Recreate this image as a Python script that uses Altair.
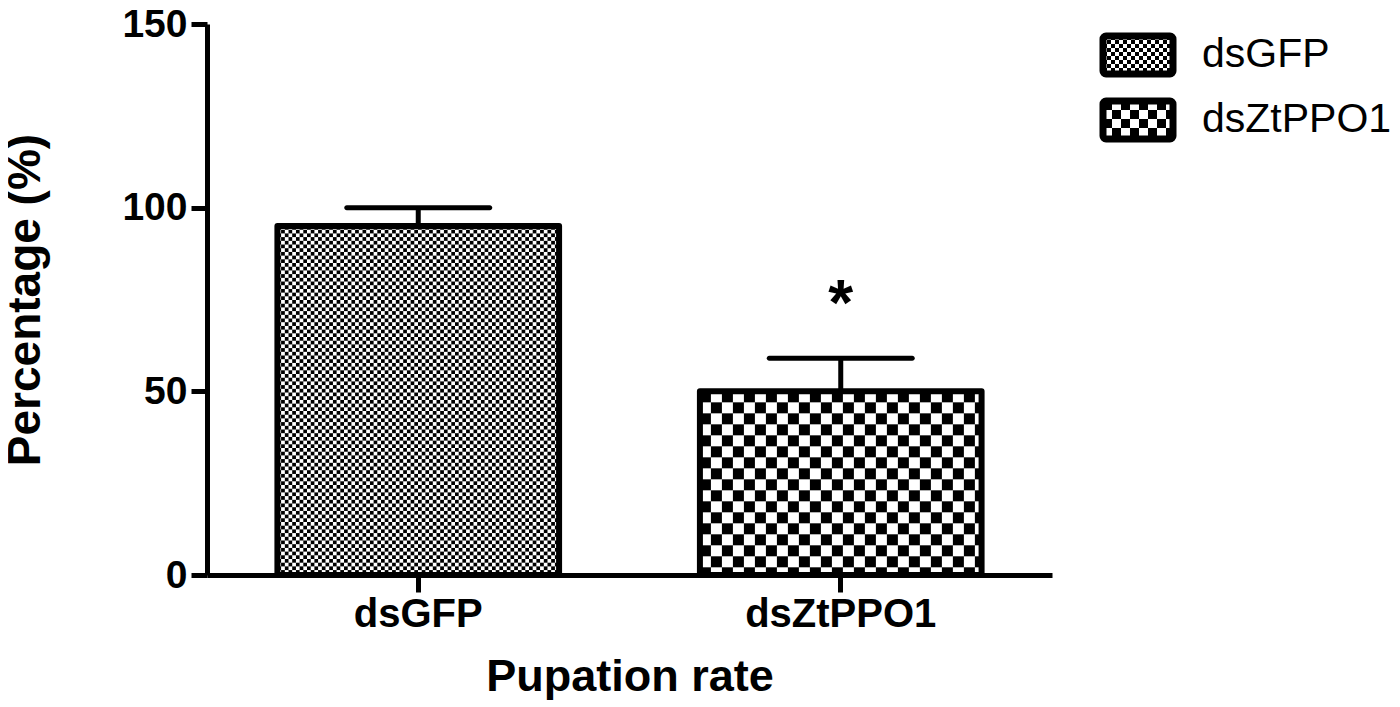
import base64
import altair as alt
import pandas as pd

# ---- data ----
categories = ["dsGFP", "dsZtPPO1"]
means = [95, 50]
errors = [5, 9]
sig_groups = ["dsZtPPO1"]
sig_labels = ["*"]
sig_y = [68]
legend_labels = ["dsGFP", "dsZtPPO1"]
y_ticks = [0, 50, 100, 150]

# ---- styling ----
W, H = 845, 551
FONT = "Liberation Sans"
cell_sizes = {"dsGFP": 3.7, "dsZtPPO1": 11}
legend_cells = {"dsGFP": 4, "dsZtPPO1": 9}


def checker_url(w, h, cell):
    svg = (
        f'<svg xmlns="http://www.w3.org/2000/svg" width="{w:.1f}" height="{h:.1f}" '
        f'viewBox="0 0 {w:.1f} {h:.1f}" preserveAspectRatio="none" shape-rendering="crispEdges">'
        f'<defs><pattern id="p" width="{2*cell}" height="{2*cell}" patternUnits="userSpaceOnUse">'
        f'<rect width="{2*cell}" height="{2*cell}" fill="#fff"/>'
        f'<rect width="{cell}" height="{cell}" fill="#000"/>'
        f'<rect x="{cell}" y="{cell}" width="{cell}" height="{cell}" fill="#000"/>'
        '</pattern></defs><rect width="100%" height="100%" fill="url(#p)"/></svg>'
    )
    return "data:image/svg+xml;base64," + base64.b64encode(svg.encode()).decode()


bw = W / 3.0
df = pd.DataFrame({
    "group": categories,
    "mean": means,
    "err_hi": [m + e for m, e in zip(means, errors)],
    "url": [checker_url(bw, m / 150 * H, cell_sizes[c]) for c, m in zip(categories, means)],
})
df_sig = pd.DataFrame({"group": sig_groups, "label": sig_labels, "y": sig_y})

x_enc = alt.X(
    "group:N",
    sort=categories,
    scale=alt.Scale(paddingInner=1 / 3, paddingOuter=1 / 6),
    axis=alt.Axis(
        title="Pupation rate", labelAngle=0, labelFont=FONT, labelFontSize=40,
        labelFontWeight="bold", labelColor="black", labelPadding=2, labelLimit=0,
        tickSize=17, tickWidth=5, tickColor="black",
        domainWidth=5, domainColor="black",
        titleFont=FONT, titleFontSize=45, titleFontWeight="bold", titleColor="black",
        titlePadding=20,
    ),
)
y_enc = alt.Y(
    "mean:Q",
    scale=alt.Scale(domain=[0, 150], nice=False),
    axis=alt.Axis(
        title="Percentage (%)", values=y_ticks, labelFont=FONT, labelFontSize=39,
        labelFontWeight="bold", labelColor="black", labelPadding=4,
        tickSize=16, tickWidth=5, tickColor="black",
        domainWidth=5, domainColor="black", grid=False,
        titleFont=FONT, titleFontSize=46, titleFontWeight="bold", titleColor="black",
        titlePadding=72,
    ),
)

base = alt.Chart(df)

fill_img = base.mark_image(aspect=False).encode(
    x=x_enc, y=y_enc, y2=alt.datum(0), url="url:N"
)
err_rule = base.mark_rule(strokeWidth=5, color="black", opacity=1).encode(
    x="group:N", y="mean:Q", y2="err_hi:Q"
)
err_cap = base.mark_tick(orient="horizontal", size=148, thickness=5,
                         cornerRadius=2.5, color="black", opacity=1).encode(
    x="group:N", y="err_hi:Q"
)
outline = base.mark_bar(fillOpacity=0, stroke="black", strokeWidth=6,
                        strokeJoin="round").encode(
    x="group:N", y="mean:Q"
)
sig = alt.Chart(df_sig).mark_text(font=FONT, fontSize=64, fontWeight="bold",
                                  color="black", baseline="alphabetic").encode(
    x="group:N", y="y:Q", text="label:N"
)

# ---- manual legend (patterned swatches) ----
legend_layers = []
sw_x, sw_x2 = 896, 966
sw_tops = [12, 77]
sw_h = 38
for lab, top in zip(legend_labels, sw_tops):
    ldf = pd.DataFrame({"label": [lab],
                        "url": [checker_url(sw_x2 - sw_x, sw_h, legend_cells[lab])]})
    lc = alt.Chart(ldf)
    legend_layers.append(lc.mark_image(aspect=False).encode(
        x=alt.value(sw_x), x2=alt.value(sw_x2), y=alt.value(top), y2=alt.value(top + sw_h),
        url="url:N"))
    legend_layers.append(lc.mark_rect(fillOpacity=0, stroke="black", strokeWidth=7,
                                      cornerRadius=3).encode(
        x=alt.value(sw_x), x2=alt.value(sw_x2), y=alt.value(top), y2=alt.value(top + sw_h)))
    legend_layers.append(lc.mark_text(font=FONT, fontSize=41, color="black",
                                      align="left", baseline="middle").encode(
        x=alt.value(sw_x2 + 29), y=alt.value(top + sw_h / 2), text="label:N"))

chart = alt.layer(fill_img, err_rule, err_cap, outline, sig, *legend_layers).properties(
    width=W, height=H,
    autosize=alt.AutoSizeParams(type="none"),
    padding={"left": 199, "top": 16, "right": 340, "bottom": 128},
    background="white",
).configure_view(stroke=None)

chart.save("out.html", embed_options={"renderer": "svg", "actions": False})
